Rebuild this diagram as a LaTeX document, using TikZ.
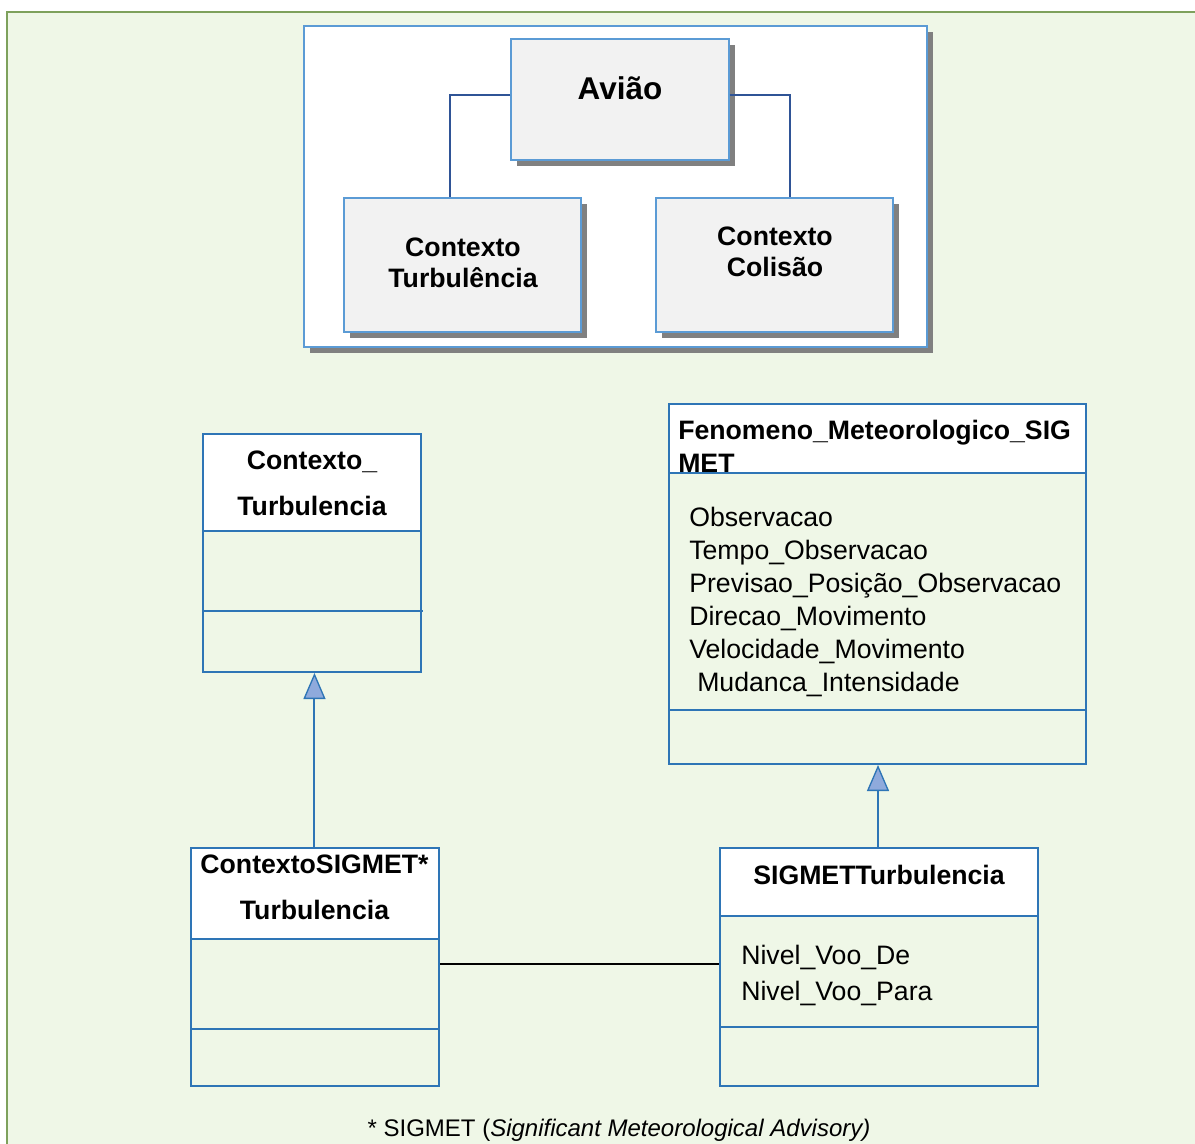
\documentclass[tikz,border=0pt]{standalone}
\usepackage{fontspec}
\setmainfont{Liberation Sans}
\usetikzlibrary{fit,shadows,arrows.meta}
\definecolor{bgcol}{RGB}{239,247,231}
\definecolor{framecol}{RGB}{126,161,92}
\definecolor{clsblue}{RGB}{46,117,182}
\definecolor{topblue}{RGB}{91,155,213}
\definecolor{treeblue}{RGB}{47,84,150}
\definecolor{arrfill}{RGB}{143,170,220}
\definecolor{boxgray}{RGB}{242,242,242}
\definecolor{shadowgray}{RGB}{128,128,128}
\begin{document}
\begin{tikzpicture}[x=0.75pt,y=-0.75pt,
  shad/.style={drop shadow={shadow xshift=4.2pt,shadow yshift=-4.2pt,fill=shadowgray,opacity=1}},
  topframe/.style={draw=topblue,fill=white,line width=0.9pt,inner sep=0pt,shad},
  topbox/.style={draw=topblue,fill=boxgray,line width=0.9pt,inner sep=0pt,shad},
  toptext/.style={inner sep=0pt,align=center,font=\bfseries\fontsize{20}{23.25}\selectfont},
  treeline/.style={draw=treeblue,line width=1.5pt},
  hdr/.style={fill=white,inner sep=0pt},
  cls/.style={draw=clsblue,line width=1.5pt,inner sep=0pt},
  clsline/.style={draw=clsblue,line width=1.5pt},
  clsname/.style={inner sep=0pt,align=center,font=\bfseries\fontsize{20}{34.5}\selectfont},
  attr/.style={inner sep=0pt,align=left,font=\fontsize{20}{24.75}\selectfont},
  genline/.style={draw=clsblue,line width=1.5pt,-{Triangle[length=19.5pt,width=16.5pt,fill=arrfill,line width=1pt]}},
  assoc/.style={draw=black,line width=1.5pt}]
\useasboundingbox (0,0) rectangle (1195,1144);
\fill[bgcol] (7,12) rectangle (1195,1144);
\draw[framecol,line width=1.2pt] (7,1144) -- (7,12) -- (1195,12);

% ---------- top tree ----------
\node[topframe,fit={(304,26)(927,347)}] (frame) {};
\node[topbox,fit={(511,39)(729,160)}] (avi) {};
\node[topbox,fit={(344,198)(581,332)}] (ctx1) {};
\node[topbox,fit={(656,198)(893,332)}] (ctx2) {};
\draw[treeline] ([yshift=3.4pt]avi.west) -| ([xshift=-9.4pt]ctx1.north);
\draw[treeline] ([yshift=3.4pt]avi.east) -| ([xshift=11.6pt]ctx2.north);
\node[inner sep=0pt,anchor=base,font=\bfseries\fontsize{23.6}{25}\selectfont] (avit) at (620,99.8) {Avião};
\node[toptext,anchor=north] (ctx1t) at (463,238) {Contexto\\Turbulência};
\node[toptext,anchor=north] (ctx2t) at (775,227) {Contexto\\Colisão};

% ---------- Contexto_Turbulencia ----------
\node[hdr,fit={(203,434)(421,531)}] (cth) {};
\node[cls,fit={(203,434)(421,672)}] (ct) {};
\draw[clsline] (cth.south west) -- (cth.south east);
\draw[clsline] (ct.west |- 0,611) -- ([xshift=0.75pt]ct.east |- 0,611);
\node[clsname,anchor=north] (ctt) at (312,451) {Contexto\_\\Turbulencia};

% ---------- Fenomeno ----------
\node[hdr,fit={(669,404)(1086,473)}] (feh) {};
\node[cls,fit={(669,404)(1086,764)}] (fe) {};
\begin{scope}
\clip (feh.south west) rectangle (feh.north east);
\node[inner sep=0pt,anchor=north west,align=left,font=\bfseries\fontsize{20}{25}\selectfont] (fet) at (678,420) {Fenomeno\_Meteorologico\_SIG\\MET};
\end{scope}
\draw[clsline] (feh.south west) -- (feh.south east);
\draw[clsline] (fe.west |- 0,710) -- (fe.east |- 0,710);
\node[attr,anchor=north west] (fea) at (689,507) {Observacao\\Tempo\_Observacao\\Previsao\_Posição\_Observacao\\Direcao\_Movimento\\Velocidade\_Movimento\\\hspace*{6pt}Mudanca\_Intensidade};

% ---------- ContextoSIGMET* Turbulencia ----------
\node[hdr,fit={(191,848)(439,939)}] (csh) {};
\node[cls,fit={(191,848)(439,1086)}] (csig) {};
\draw[clsline] (csh.south west) -- (csh.south east);
\draw[clsline] (csig.west |- 0,1029) -- (csig.east |- 0,1029);
\node[clsname,anchor=north] (csigt) at (314.5,855) {ContextoSIGMET*\\Turbulencia};

% ---------- SIGMETTurbulencia ----------
\node[hdr,fit={(720,848)(1038,916)}] (sth) {};
\node[cls,fit={(720,848)(1038,1086)}] (st) {};
\draw[clsline] (sth.south west) -- (sth.south east);
\draw[clsline] (st.west |- 0,1027) -- (st.east |- 0,1027);
\node[clsname,anchor=north] (stt) at (879,865) {SIGMETTurbulencia};
\node[attr,anchor=north west,font=\fontsize{20}{27}\selectfont] (sta) at (741,945) {Nivel\_Voo\_De\\Nivel\_Voo\_Para};

% ---------- connectors ----------
\draw[genline] ([xshift=-0.4pt]csig.north) -- ([xshift=-0.4pt]csig.north |- ct.south);
\draw[genline] ([xshift=-0.75pt]st.north) -- ([xshift=-0.75pt]st.north |- fe.south);
\draw[assoc] ([yshift=2.25pt]csig.east) -- ([yshift=2.25pt]csig.east -| st.west);

% ---------- footnote ----------
\node[inner sep=0pt,anchor=base,font=\fontsize{18}{22}\selectfont] (foot) at (619,1136.5) {* SIGMET (\textit{Significant Meteorological Advisory)}};
\end{tikzpicture}
\end{document}
